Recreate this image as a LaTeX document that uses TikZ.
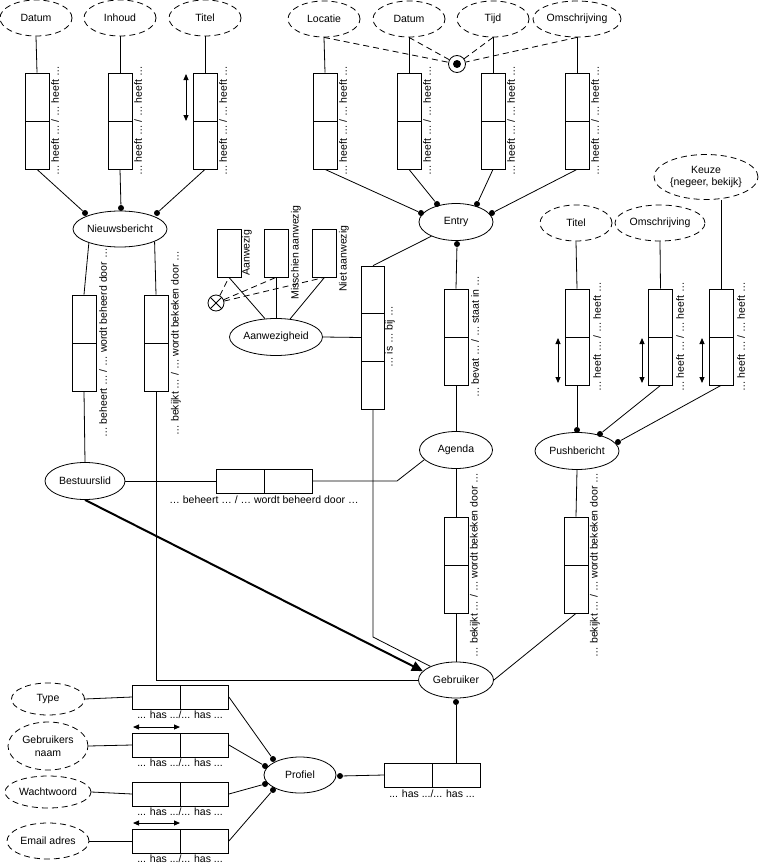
\documentclass[tikz,border=0pt]{standalone}
\usepackage{fontspec}
\setmainfont{Liberation Sans}
\usetikzlibrary{shapes.geometric,arrows.meta}
\begin{document}
\begin{tikzpicture}[x=1pt,y=-1pt,
  font=\fontsize{10.5}{12.5}\selectfont,
  line width=0.8pt,
  ent/.style={ellipse, draw, inner sep=0pt, minimum width=74pt, minimum height=37pt},
  val/.style={ellipse, draw, dash pattern=on 6pt off 4pt, inner sep=0pt, minimum width=72pt, minimum height=36pt},
  vbox/.style={draw, minimum width=24pt, minimum height=96pt, inner sep=0pt,
    path picture={\draw (path picture bounding box.west) -- (path picture bounding box.east);}},
  hbox/.style={draw, minimum width=96pt, minimum height=24pt, inner sep=0pt,
    path picture={\draw (path picture bounding box.north) -- (path picture bounding box.south);}},
  sbox/.style={draw, minimum width=24pt, minimum height=48pt, inner sep=0pt},
  rot/.style={rotate=90, inner sep=0pt},
  lab/.style={inner sep=0pt},
  dot/.style={circle, fill, inner sep=0pt, minimum size=6pt},
  dbl/.style={{Triangle[length=6pt,width=5pt]}-{Triangle[length=6pt,width=5pt]}, line width=0.9pt},
  dsh/.style={dash pattern=on 6pt off 4pt}
]
\useasboundingbox (0,0) rectangle (759,867);

% ---------- Nieuwsbericht part ----------
\node[val] (vDatum1) at (36,18) {Datum};
\node[val] (vInhoud) at (120,18) {Inhoud};
\node[val] (vTitel1) at (205,18) {Titel};
\node[vbox] (bDatum1) at (37,121) {};
\node[vbox] (bInhoud) at (120,121) {};
\node[vbox] (bTitel1) at (205,121) {};
\node[rot] (lDatum1) at (55,121) {… heeft … / … heeft …};
\node[rot] (lInhoud) at (138,121) {… heeft … / … heeft …};
\node[rot] (lTitel1) at (223,121) {… heeft … / … heeft …};
\node[ent, minimum width=94pt, minimum height=36pt] (eNieuws) at (120,229) {Nieuwsbericht};
\node[dot] (dN1) at (85,213) {};
\node[dot] (dN2) at (121,208) {};
\node[dot] (dN3) at (157,213) {};
\draw (vDatum1.south) -- (bDatum1.north);
\draw (vInhoud.south) -- (bInhoud.north);
\draw (vTitel1.south) -- (bTitel1.north);
\draw (bDatum1.south) -- (dN1);
\draw (bInhoud.south) -- (dN2);
\draw (bTitel1.south) -- (dN3);
\coordinate (aT1) at (186,74);
\coordinate (aT2) at (186,121);
\draw[dbl] (aT1) -- (aT2);

% ---------- Entry part ----------
\node[val] (vLocatie) at (324,19) {Locatie};
\node[val] (vDatum2) at (409,19) {Datum};
\node[val] (vTijd) at (493,19) {Tijd};
\node[val, minimum width=88pt] (vOmschr1) at (577,19) {Omschrijving};
\node[circle, draw, minimum size=17pt, inner sep=0pt, fill=white] (cU) at (457,64) {};
\fill (cU.center) circle (4pt);
\draw[dsh] (vLocatie.south) -- (cU);
\draw[dsh] (vDatum2.south) -- (cU);
\draw[dsh] (vTijd.south) -- (cU);
\draw[dsh] (vOmschr1.south) -- (cU);
\node[vbox] (bLocatie) at (325,121) {};
\node[vbox] (bDatum2) at (409,121) {};
\node[vbox] (bTijd) at (493,121) {};
\node[vbox] (bOmschr1) at (577,121) {};
\node[rot] (lLocatie) at (343,121) {… heeft … / … heeft …};
\node[rot] (lDatum2) at (427,121) {… heeft … / … heeft …};
\node[rot] (lTijd) at (511,121) {… heeft … / … heeft …};
\node[rot] (lOmschr1) at (595,121) {… heeft … / … heeft …};
\draw (vLocatie.south) -- (bLocatie.north);
\draw (vDatum2.south) -- (bDatum2.north);
\draw (vTijd.south) -- (bTijd.north);
\draw (vOmschr1.south) -- (bOmschr1.north);
\node[ent] (eEntry) at (456,222) {Entry};
\node[dot] (dE1) at (421,213) {};
\node[dot] (dE2) at (437,204) {};
\node[dot] (dE3) at (477,204) {};
\node[dot] (dE4) at (492,213) {};
\node[dot] (dE5) at (457,244) {};
\draw (bLocatie.south) -- (dE1);
\draw (bDatum2.south) -- (dE2);
\draw (bTijd.south) -- (dE3);
\draw (bOmschr1.south) -- (dE4);

\node[vbox] (bStaat) at (456,337) {};
\node[rot] (lStaat) at (475,337) {… bevat … / … staat in …};
\draw (dE5) -- (bStaat.north);

% ---------- Aanwezigheid ----------
\node[draw, minimum width=23pt, minimum height=143pt, inner sep=0pt] (bIsBij) at (373,337.5) {};
\draw (bIsBij.north west) ++(0,47.7) -- ++(23,0);
\draw (bIsBij.north west) ++(0,95.3) -- ++(23,0);
\node[rot] (lIsBij) at (390,337) {… is … bij …};
\draw (eEntry.210) -- (bIsBij.north);

\node[ent, minimum width=93pt] (eAanw) at (276,337) {Aanwezigheid};
\draw (eAanw.east) -- (bIsBij.west);
\node[sbox] (bV1) at (229,253) {};
\node[sbox] (bV2) at (276,253) {};
\node[sbox] (bV3) at (324.5,253) {};
\node[rot, anchor=west] (lV1) at (247,276) {Aanwezig};
\node[rot, anchor=west] (lV2) at (296,300) {Misschien aanwezig};
\node[rot, anchor=west] (lV3) at (344,292) {Niet aanwezig};
\draw (bV1.south) -- (eAanw.121);
\draw (bV2.south) -- (eAanw.north);
\draw (bV3.south) -- (eAanw.52);
\node[circle, draw, minimum size=16pt, inner sep=0pt] (cX) at (216,303) {};
\draw (cX.45) -- (cX.225) (cX.135) -- (cX.-45);
\draw[dsh] (cX) -- (bV1.south);
\draw[dsh] (cX) -- (bV2.south);
\draw[dsh] (cX) -- (bV3.south);

% ---------- Bestuurslid / Agenda ----------
\node[vbox] (bBeheert) at (84,343) {};
\node[rot] (lBeheert) at (103,343) {… beheert … / … wordt beheerd door …};
\node[vbox] (bBekijkN) at (156,343) {};
\node[rot] (lBekijkN) at (176,343) {… bekijkt … / … wordt bekeken door …};
\draw (eNieuws.204) -- (bBeheert.north);
\draw (eNieuws.-20) -- (bBekijkN.north);
\node[ent, minimum width=80pt] (eBestuur) at (85,481) {Bestuurslid};
\draw (bBeheert.south) -- (eBestuur.north);

\node[ent, minimum width=73pt, minimum height=37pt] (eAgenda) at (456,450) {Agenda};
\draw (bStaat.south) -- (eAgenda.north);
\node[hbox] (hBeheert) at (264,481) {};
\node[lab] (lhBeheert) at (264,500) {… beheert … / … wordt beheerd door …};
\coordinate (cA) at (397,481);
\draw (eBestuur.east) -- (hBeheert.west);
\draw (hBeheert.east) -- (cA) -- (eAgenda.197);

\node[vbox] (bBekijkA) at (456,565) {};
\node[rot] (lBekijkA) at (475,565) {… bekijkt … / … wordt bekeken door …};
\node[ent, minimum width=75pt, minimum height=36pt] (eGebruiker) at (456,680) {Gebruiker};
\draw (eAgenda.south) -- (bBekijkA.north);
\draw (bBekijkA.south) -- (eGebruiker.north);

\draw (bBekijkN.south) |- (eGebruiker.west);
\coordinate (cI) at (373,637);
\draw (bIsBij.south) -- (cI) -- (eGebruiker.152);
\draw[line width=2pt, -{Triangle[length=11pt,width=10pt]}] (eBestuur.south) -- (eGebruiker.165);

% ---------- Pushbericht ----------
\node[val] (vTitel2) at (576,223) {Titel};
\node[val, minimum width=90pt] (vOmschr2) at (660,223) {Omschrijving};
\node[val, minimum width=104pt, minimum height=45pt, align=center] (vKeuze) at (706,177) {Keuze\\\{negeer, bekijk\}};
\node[vbox] (pTitel) at (577,337) {};
\node[vbox] (pOmschr) at (660.5,337) {};
\node[vbox] (pKeuze) at (721,337) {};
\node[rot] (lpTitel) at (597,337) {… heeft … / … heeft …};
\node[rot] (lpOmschr) at (680,337) {… heeft … / … heeft …};
\node[rot] (lpKeuze) at (741,337) {… heeft … / … heeft …};
\draw (vTitel2.south) -- (pTitel.north);
\draw (vOmschr2.south) -- (pOmschr.north);
\draw (pKeuze.north |- vKeuze.south) -- (pKeuze.north);
\coordinate (aP1) at (558,338); \coordinate (aP2) at (558,383);
\coordinate (aP3) at (642,338); \coordinate (aP4) at (642,383);
\coordinate (aP5) at (702,338); \coordinate (aP6) at (702,383);
\draw[dbl] (aP1) -- (aP2);
\draw[dbl] (aP3) -- (aP4);
\draw[dbl] (aP5) -- (aP6);
\node[ent, minimum width=84pt] (ePush) at (577,451) {Pushbericht};
\node[dot] (dP1) at (577,430) {};
\node[dot] (dP2) at (600,434) {};
\node[dot] (dP3) at (618,442) {};
\draw (pTitel.south) -- (dP1);
\draw (pOmschr.south) -- (dP2);
\draw (pKeuze.south) -- (dP3);
\node[vbox] (bBekijkP) at (576,565) {};
\node[rot] (lBekijkP) at (595,565) {… bekijkt … / … wordt bekeken door …};
\draw (ePush.south) -- (bBekijkP.north);
\draw (bBekijkP.south) -- (eGebruiker.east);

% ---------- Profiel ----------
\node[val, minimum width=73pt, minimum height=32pt] (vType) at (48,699) {Type};
\node[val, minimum width=80pt, minimum height=48pt, align=center] (vGebr) at (48,746) {Gebruikers\\naam};
\node[val, minimum width=86pt, minimum height=32pt] (vWacht) at (48,792) {Wachtwoord};
\node[val, minimum width=82pt, minimum height=36pt] (vEmail) at (48,841) {Email adres};
\node[hbox] (hType) at (180.5,697) {};
\node[hbox] (hGebr) at (180.5,745) {};
\node[hbox] (hWacht) at (180.5,794) {};
\node[hbox] (hEmail) at (180.5,841) {};
\node[lab] (lType) at (180,715) {... has .../... has ...};
\node[lab] (lGebr) at (180,763) {... has .../... has ...};
\node[lab] (lWacht) at (180,812) {... has .../... has ...};
\node[lab] (lEmail) at (180,859) {... has .../... has ...};
\draw (vType.east) -- (hType.west);
\draw (vGebr.east) -- (hGebr.west);
\draw (vWacht.east) -- (hWacht.west);
\draw (vEmail.east) -- (hEmail.west);
\coordinate (aH1) at (133,727); \coordinate (aH2) at (180,727);
\coordinate (aH3) at (133,823); \coordinate (aH4) at (180,823);
\draw[dbl] (aH1) -- (aH2);
\draw[dbl] (aH3) -- (aH4);
\node[ent, minimum width=72pt, minimum height=36pt] (eProfiel) at (300,775) {Profiel};
\node[dot] (dQ1) at (273,759) {};
\node[dot] (dQ2) at (265,766) {};
\node[dot] (dQ3) at (265,784) {};
\node[dot] (dQ4) at (273,790) {};
\draw (hType.east) -- (dQ1);
\draw (hGebr.east) -- (dQ2);
\draw (hWacht.east) -- (dQ3);
\draw (hEmail.east) -- (dQ4);
\node[dot] (dQ5) at (340,776) {};
\node[hbox] (hHas) at (432.5,775) {};
\node[lab] (lHas) at (432,794) {... has .../... has ...};
\draw (dQ5) -- (hHas.west);
\node[dot] (dG) at (456,702) {};
\draw (dG) -- (dG |- hHas.north);
\end{tikzpicture}
\end{document}
